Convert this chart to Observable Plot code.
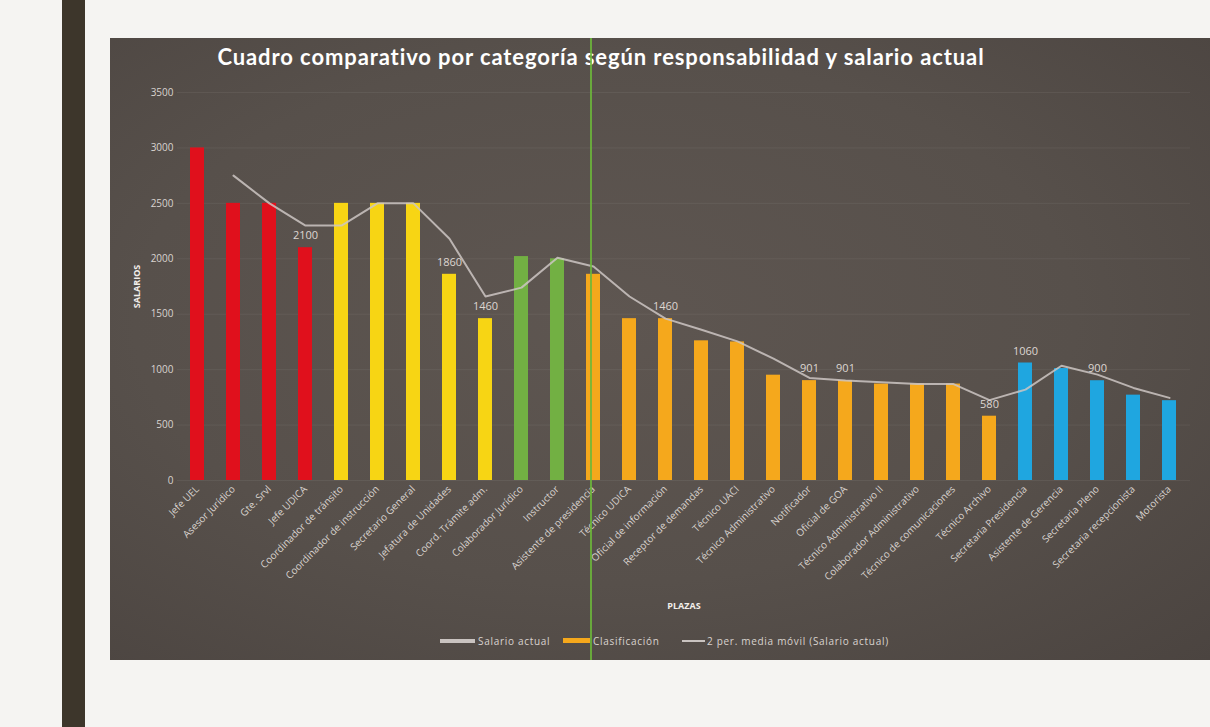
<!DOCTYPE html>
<html><head><meta charset="utf-8">
<script src="https://cdn.jsdelivr.net/npm/d3@7"></script>
<script src="https://cdn.jsdelivr.net/npm/@observablehq/plot@0.6"></script>
<style>
body{margin:0;background:#f5f4f2;width:1210px;height:727px;overflow:hidden;position:relative;font-family:"Open Sans",Lato,sans-serif}
#side{position:absolute;left:62px;top:0;width:23px;height:727px;background:#3d362b}
#panel{position:absolute;left:110px;top:38px;width:1100px;height:622px;background:radial-gradient(ellipse at 45% 45%,#5e5651 0%,#57504b 55%,#4b4440 100%)}
#title{position:absolute;left:0;width:982px;top:5px;text-align:center;color:#fff;font-family:Lato,sans-serif;font-weight:700;font-size:22px;letter-spacing:0.9px}
#chart{position:absolute;left:0;top:40px}
#vline{position:absolute;left:480px;top:0;width:1.5px;height:622px;background:#6cb83a;opacity:.85}
.lg{position:absolute;top:598px;color:#d9d3cf;font-size:10px;line-height:10px;white-space:nowrap;letter-spacing:0.7px}
.sw{position:absolute}
</style></head><body>
<div id="side"></div>
<div id="panel">
  <div id="title">Cuadro comparativo por categoría según responsabilidad y salario actual</div>
  <div id="chart"></div>
  <div class="sw" style="left:330px;top:601px;width:35px;height:4px;background:#c9c3c0"></div>
  <div class="lg" style="left:368px">Salario actual</div>
  <div class="sw" style="left:453px;top:600px;width:27px;height:5px;background:#f5a81c"></div>
  <div class="lg" style="left:483px">Clasificación</div>
  <div class="sw" style="left:572px;top:602px;width:23px;height:1.5px;background:#c9c3c0"></div>
  <div class="lg" style="left:597px">2 per. media móvil (Salario actual)</div>
  <div id="vline"></div>
</div>
<script>
const plazas = ["Jefe UEL","Asesor Jurídico","Gte. Srvl","Jefe UDICA","Coordinador de tránsito","Coordinador de instrucción","Secretario General","Jefatura de Unidades","Coord. Trámite adm.","Colaborador Jurídico","Instructor","Asistente de presidencia","Técnico UDICA","Oficial de información","Receptor de demandas","Técnico UACI","Técnico Administrativo","Notificador","Oficial de GOA","Técnico Administrativo II","Colaborador Administrativo","Técnico de comunicaciones","Técnico Archivo","Secretaria Presidencia","Asistente de Gerencia","Secretaria Pleno","Secretaria recepcionista","Motorista"];
const salarios = [3000,2500,2500,2100,2500,2500,2500,1860,1460,2020,2000,1860,1460,1460,1260,1250,950,901,901,870,870,870,580,1060,1010,900,770,720];
const niveles = ["Nivel 1","Nivel 1","Nivel 1","Nivel 1","Nivel 2","Nivel 2","Nivel 2","Nivel 2","Nivel 2","Nivel 3","Nivel 3","Nivel 4","Nivel 4","Nivel 4","Nivel 4","Nivel 4","Nivel 4","Nivel 4","Nivel 4","Nivel 4","Nivel 4","Nivel 4","Nivel 4","Nivel 5","Nivel 5","Nivel 5","Nivel 5","Nivel 5"];
const conEtiqueta = ["Jefe UDICA","Jefatura de Unidades","Coord. Trámite adm.","Oficial de información","Notificador","Oficial de GOA","Técnico Archivo","Secretaria Presidencia","Secretaria Pleno"];
const yTicks = [0,500,1000,1500,2000,2500,3000,3500];
const nivelDominio = ["Nivel 1","Nivel 2","Nivel 3","Nivel 4","Nivel 5"];
const nivelColores = ["#e0101c","#f7d514","#72b043","#f5a81c","#1fa6e0"];

const data = plazas.map((p,i)=>({plaza:p, salario:salarios[i], nivel:niveles[i]}));

const chart = Plot.plot({
  width:1100, height:545,
  marginLeft:67, marginRight:20, marginTop:14, marginBottom:143,
  style:{background:"transparent", color:"#d9d3cf", fontFamily:"'Open Sans', Lato, sans-serif"},
  x:{domain:plazas, paddingInner:0.6, paddingOuter:0.3, align:0.5},
  y:{domain:[0,3500]},
  color:{domain:nivelDominio, range:nivelColores},
  marks:[
    Plot.gridY(yTicks,{stroke:"#ffffff", strokeOpacity:0.06}),
    Plot.barY(data,{x:"plaza", y:"salario", fill:"nivel"}),
    Plot.lineY(data, Plot.windowY({k:2, anchor:"end", reduce:"mean", strict:true},{x:"plaza", y:"salario", stroke:"#cdc6c3", strokeWidth:2, strokeOpacity:0.85})),
    Plot.text(data.filter(d=>conEtiqueta.includes(d.plaza)),{x:"plaza", y:"salario", text:d=>String(d.salario), dy:-12, fill:"#ddd6d2", fontSize:11}),
    Plot.axisY({ticks:yTicks, tickFormat:d=>String(d), tickSize:0, tickPadding:4, fontSize:10, fill:"#d9d3cf", label:"SALARIOS", labelAnchor:"center", labelOffset:44, labelArrow:"none"}),
    Plot.axisX({tickRotate:-45, tickSize:0, tickPadding:7, fontSize:10, fill:"#d9d3cf", label:"PLAZAS", labelAnchor:"center", labelOffset:128, labelArrow:"none"})
  ]
});
document.getElementById("chart").appendChild(chart);
chart.querySelectorAll("[aria-label='y-axis label'] text, [aria-label='x-axis label'] text").forEach(t=>{t.setAttribute("font-weight","700");t.setAttribute("font-size","9");t.setAttribute("fill","#f2eeea");});
</script>
</body></html>
